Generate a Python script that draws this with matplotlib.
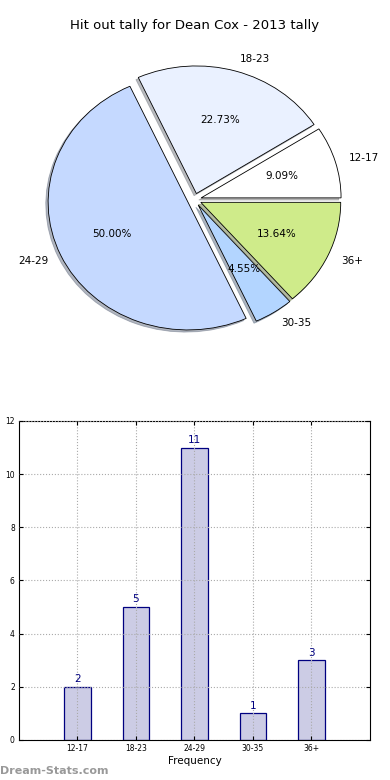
import matplotlib
matplotlib.use("Agg")
import matplotlib.pyplot as plt
import numpy as np

# pie data
AGE_GROUPS = ["12-17", "18-23", "24-29", "30-35", "36+"]
HIT_OUT_COUNTS = [2, 5, 11, 1, 3]
PIE_COLORS = ["#FFFFFF", "#EAF1FF", "#C5D9FF", "#B3D5FF", "#CFEB8A"]
EXPLODE = [0.05, 0.05, 0.05, 0.05, 0.05]

TITLE = "Hit out tally for Dean Cox - 2013 tally"

fig = plt.figure(figsize=(3.9, 7.8), dpi=100)

# ------------------------------------------------------------------
# top: pie
# ------------------------------------------------------------------
ax1 = fig.add_axes([0.05, 0.5395, 0.897, 0.409])
wedges, texts, autotexts = ax1.pie(
    HIT_OUT_COUNTS, labels=AGE_GROUPS, colors=PIE_COLORS, explode=EXPLODE,
    autopct="%1.2f%%", startangle=0,
    shadow={"ox": -0.012, "oy": -0.012, "shade": 0.5},
    wedgeprops={"edgecolor": "black", "linewidth": 0.6},
    textprops={"fontsize": 7.5},
)
ax1.set_aspect("auto")
ax1.set_xlim(-1.25, 1.25)
ax1.set_ylim(-1.25, 1.25)
ax1.set_title(TITLE, fontsize=9.5, pad=8)

# ------------------------------------------------------------------
# bottom: bars
# ------------------------------------------------------------------
ax2 = fig.add_axes([0.0487, 0.0513, 0.9, 0.409])
x = np.arange(1, len(AGE_GROUPS) + 1)
ax2.bar(x, HIT_OUT_COUNTS, width=0.45, color="#CCCCE5",
        edgecolor="#000080", linewidth=0.9, zorder=1)
for xi, v in zip(x, HIT_OUT_COUNTS):
    ax2.text(xi, v + 0.1, str(v), ha="center", va="bottom",
             color="#000080", fontsize=7.5)
ax2.set_xlim(0, 6)
ax2.set_ylim(0, 12)
ax2.set_xticks(x)
ax2.set_xticklabels(AGE_GROUPS)
ax2.set_yticks(range(0, 13, 2))
ax2.tick_params(axis="both", labelsize=5.5, direction="in",
                top=True, right=True, length=3, pad=3)
ax2.grid(True, color="#AAAAAA", linestyle=":", linewidth=0.8, zorder=2)
ax2.set_axisbelow(False)
ax2.set_xlabel("Frequency", fontsize=7.5, labelpad=2)
# label sits partly off the left edge, as in the original
ax2.set_ylabel("Stat Hit Outs", fontsize=7.5, labelpad=5)

fig.text(0.0, 0.005, "Dream-Stats.com", fontsize=8, fontweight="bold",
         color="#999999", ha="left", va="bottom")

fig.savefig("out.png", dpi=100)
